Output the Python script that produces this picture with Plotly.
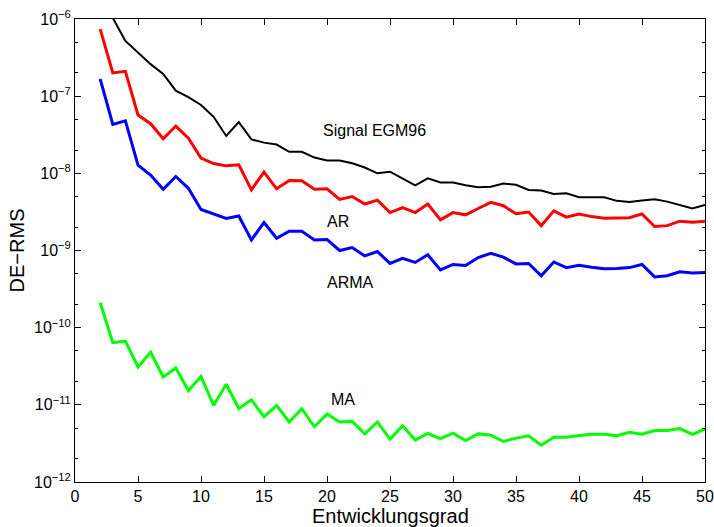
import plotly.graph_objects as go

degree = list(range(2, 51))

signal_egm96 = [3.0e-6, 1.03e-6, 5.2e-7, 3.66e-7, 2.6e-7, 1.94e-7, 1.18e-7, 9.7e-8, 7.7e-8, 5.4e-8,
                3.05e-8, 4.6e-8, 2.75e-8, 2.5e-8, 2.36e-8, 1.9e-8, 1.9e-8, 1.6e-8, 1.47e-8, 1.47e-8,
                1.35e-8, 1.19e-8, 1.0e-8, 1.05e-8, 8.6e-9, 7.0e-9, 8.6e-9, 7.6e-9, 7.6e-9, 7.0e-9,
                6.6e-9, 6.7e-9, 7.4e-9, 7.1e-9, 6.1e-9, 6.0e-9, 5.4e-9, 5.5e-9, 4.9e-9, 4.9e-9,
                4.9e-9, 4.4e-9, 4.25e-9, 4.45e-9, 4.6e-9, 4.3e-9, 3.9e-9, 3.5e-9, 3.9e-9]

ar = [7.4e-7, 2.0e-7, 2.1e-7, 5.7e-8, 4.4e-8, 2.8e-8, 4.1e-8, 2.85e-8, 1.58e-8, 1.34e-8,
      1.25e-8, 1.29e-8, 6.1e-9, 1.04e-8, 6.3e-9, 8.1e-9, 8.0e-9, 6.2e-9, 6.3e-9, 4.6e-9,
      5.0e-9, 4.0e-9, 4.5e-9, 3.1e-9, 3.6e-9, 3.1e-9, 4.0e-9, 2.5e-9, 3.1e-9, 2.9e-9,
      3.5e-9, 4.2e-9, 3.8e-9, 3.0e-9, 3.15e-9, 2.1e-9, 3.26e-9, 2.7e-9, 2.96e-9, 2.75e-9,
      2.62e-9, 2.65e-9, 2.66e-9, 2.98e-9, 2.05e-9, 2.1e-9, 2.4e-9, 2.32e-9, 2.4e-9]

arma = [1.67e-7, 4.3e-8, 4.8e-8, 1.28e-8, 9.5e-9, 6.2e-9, 9.1e-9, 6.4e-9, 3.4e-9, 2.96e-9,
        2.6e-9, 2.8e-9, 1.37e-9, 2.3e-9, 1.44e-9, 1.78e-9, 1.77e-9, 1.37e-9, 1.39e-9, 1.0e-9,
        1.09e-9, 8.5e-10, 9.7e-10, 6.8e-10, 7.9e-10, 7.0e-10, 8.8e-10, 5.6e-10, 6.6e-10, 6.4e-10,
        8.1e-10, 9.2e-10, 8.2e-10, 6.7e-10, 6.8e-10, 4.7e-10, 7.1e-10, 6.0e-10, 6.45e-10, 6.05e-10,
        5.8e-10, 5.85e-10, 6.0e-10, 6.6e-10, 4.55e-10, 4.7e-10, 5.3e-10, 5.1e-10, 5.2e-10]

ma = [2.1e-10, 6.4e-11, 6.7e-11, 3.1e-11, 4.8e-11, 2.3e-11, 3.0e-11, 1.53e-11, 2.33e-11, 9.8e-12,
      1.85e-11, 8.95e-12, 1.16e-11, 7.0e-12, 9.8e-12, 6.0e-12, 8.9e-12, 5.2e-12, 7.6e-12, 6.0e-12,
      6.1e-12, 4.2e-12, 6.0e-12, 3.6e-12, 5.35e-12, 3.5e-12, 4.25e-12, 3.65e-12, 4.3e-12, 3.45e-12,
      4.2e-12, 4.05e-12, 3.35e-12, 3.7e-12, 3.97e-12, 3.0e-12, 3.8e-12, 3.8e-12, 4.0e-12, 4.15e-12,
      4.15e-12, 3.97e-12, 4.4e-12, 4.15e-12, 4.65e-12, 4.65e-12, 4.93e-12, 4.15e-12, 4.85e-12]

x_ticks = list(range(0, 51, 5))
y_tick_vals = [1e-12, 1e-11, 1e-10, 1e-9, 1e-8, 1e-7, 1e-6]
y_tick_text = ["10<sup>−12</sup>", "10<sup>−11</sup>", "10<sup>−10</sup>", "10<sup>−9</sup>",
               "10<sup>−8</sup>", "10<sup>−7</sup>", "10<sup>−6</sup>"]

labels = ["Signal EGM96", "AR", "ARMA", "MA"]
label_x = [19.5, 19.85, 19.85, 20.15]
label_logy = [-7.45, -8.62, -9.41, -10.93]

FONT = "Liberation Sans, Arial, sans-serif"

fig = go.Figure()
series = [(signal_egm96, "black", 2), (ar, "#ff0000", 3), (arma, "#0000ff", 3), (ma, "#00ff00", 3)]
for vals, col, w in series:
    fig.add_trace(go.Scatter(x=degree, y=vals, mode="lines",
                             line=dict(color=col, width=w), showlegend=False))

for t, x, y in zip(labels, label_x, label_logy):
    fig.add_annotation(x=x, y=y, text=t, showarrow=False, xanchor="left", yanchor="middle",
                       font=dict(family=FONT, size=16, color="black"))

# x axis title placed as paper annotation
fig.add_annotation(x=0.5, y=-0.074, xref="paper", yref="paper", text="Entwicklungsgrad",
                   showarrow=False, xanchor="center", yanchor="middle",
                   font=dict(family=FONT, size=20, color="black"))

fig.update_xaxes(range=[0, 50], tickvals=x_ticks, showline=True, mirror="allticks",
                 linecolor="black", linewidth=1, ticks="inside", ticklen=6, tickcolor="black",
                 showgrid=False, zeroline=False, automargin=False,
                 tickfont=dict(family=FONT, size=16, color="black"))
fig.update_yaxes(type="log", range=[-12, -6], tickvals=y_tick_vals, ticktext=y_tick_text,
                 showline=True, mirror="allticks", linecolor="black", linewidth=1,
                 ticks="inside", ticklen=6, tickcolor="black", showgrid=False, zeroline=False,
                 automargin=False,
                 minor=dict(ticks="inside", ticklen=3, tickcolor="black", showgrid=False),
                 tickfont=dict(family=FONT, size=16, color="black"),
                 title=dict(text="DE−RMS", standoff=4,
                            font=dict(family=FONT, size=20, color="black")))

fig.update_layout(width=714, height=527, margin=dict(l=75, r=9, t=19, b=45),
                  plot_bgcolor="white", paper_bgcolor="white")

fig.write_html("out.html")
